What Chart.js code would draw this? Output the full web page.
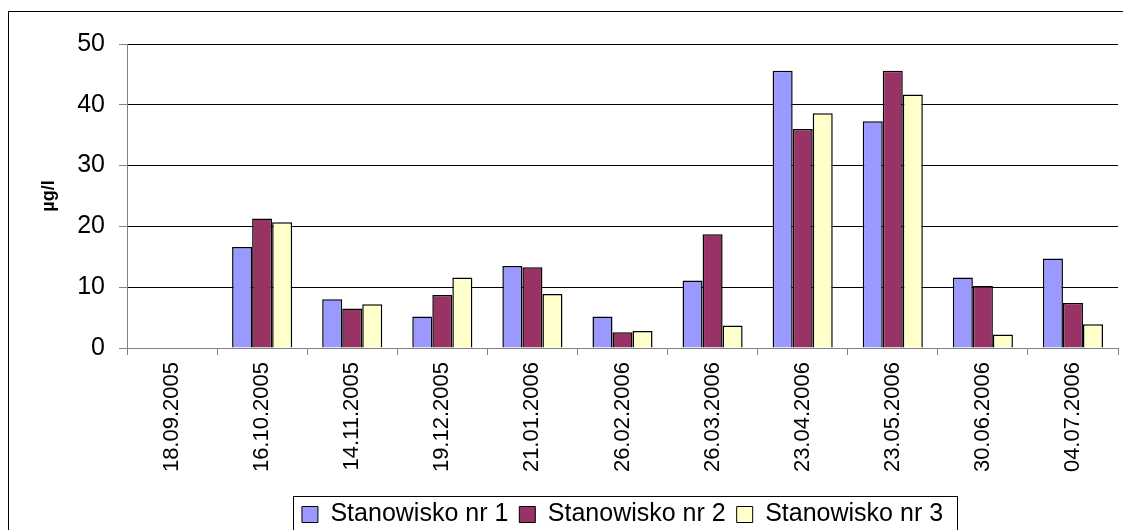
<!DOCTYPE html>
<html>
<head>
<meta charset="utf-8">
<script src="https://cdn.jsdelivr.net/npm/chart.js@4"></script>
<style>
    html, body { margin: 0; padding: 0; background: #fff; }
    #wrap { width: 1123px; height: 530px; }
</style>
</head>
<body>
<div id="wrap"><canvas id="chart"></canvas></div>
<script>
// dates of sampling
const dates = ['18.09.2005', '16.10.2005', '14.11.2005', '19.12.2005', '21.01.2006', '26.02.2006',
    '26.03.2006', '23.04.2006', '23.05.2006', '30.06.2006', '04.07.2006'];

// values in µg/l
const site1 = [null, 16.6, 8.0, 5.2, 13.5, 5.2, 11.1, 45.6, 37.3, 11.6, 14.7];
const site2 = [null, 21.3, 6.5, 8.7, 13.3, 2.6, 18.7, 36.0, 45.6, 10.2, 7.4];
const site3 = [null, 20.7, 7.2, 11.6, 8.9, 2.8, 3.7, 38.6, 41.7, 2.2, 3.9];

const seriesNames = ['Stanowisko nr 1', 'Stanowisko nr 2', 'Stanowisko nr 3'];
const yTicks = [0, 10, 20, 30, 40, 50];

const FONT = "'Liberation Sans', Arial, sans-serif";

// outer frame + frame round the legend
const framePlugin = {
    id: 'frames',
    afterDraw(chart) {
        const ctx = chart.ctx;
        ctx.save();
        ctx.strokeStyle = '#000';
        ctx.lineWidth = 1;
        ctx.strokeRect(8.5, 11.5, 1300, 700);

        const boxes = chart.legend.legendHitBoxes;
        if (boxes && boxes.length) {
            const first = boxes[0];
            const last = boxes[boxes.length - 1];
            const l = Math.round(first.left - 9) + 0.5;
            const r = Math.round(last.left + last.width + 14) + 0.5;
            const t = Math.round(first.top - 6) + 0.5;
            ctx.strokeStyle = '#000';
            ctx.strokeRect(l, t, r - l, 100);
        }
        ctx.restore();
    }
};

const ctx = document.getElementById('chart');
new Chart(ctx, {
    type: 'bar',
    data: {
        labels: dates,
        datasets: [
            { label: seriesNames[0], data: site1, backgroundColor: '#9999FF' },
            { label: seriesNames[1], data: site2, backgroundColor: '#993366' },
            { label: seriesNames[2], data: site3, backgroundColor: '#FFFFCC' }
        ].map(ds => Object.assign(ds, {
            borderColor: '#000',
            borderWidth: 1.5,
            barPercentage: 1,
            categoryPercentage: 0.667
        }))
    },
    options: {
        responsive: true,
        maintainAspectRatio: false,
        animation: false,
        layout: { padding: { left: 0, right: 5, top: 44, bottom: -7 } },
        plugins: {
            tooltip: { enabled: false },
            legend: {
                position: 'bottom',
                fullSize: false,
                labels: {
                    color: '#000',
                    font: { family: FONT, size: 25 },
                    boxWidth: 16,
                    boxHeight: 16,
                    padding: 11,
                    generateLabels(chart) {
                        return chart.data.datasets.map((ds, i) => ({
                            text: ds.label,
                            fillStyle: ds.backgroundColor,
                            strokeStyle: '#000',
                            lineWidth: 1,
                            datasetIndex: i
                        }));
                    }
                }
            }
        },
        scales: {
            x: {
                grid: {
                    display: true,
                    drawOnChartArea: false,
                    drawTicks: true,
                    tickLength: 7,
                    color: '#808080'
                },
                border: { color: '#808080', width: 1 },
                ticks: {
                    color: '#000',
                    font: { family: FONT, size: 22 },
                    minRotation: 90,
                    maxRotation: 90,
                    padding: 7,
                    autoSkip: false
                },
                afterFit(scale) { scale.height = 143; }
            },
            y: {
                min: 0,
                max: 50,
                afterBuildTicks(scale) { scale.ticks = yTicks.map(v => ({ value: v })); },
                grid: {
                    color: '#000',
                    lineWidth: 1,
                    tickLength: 8,
                    tickColor: '#808080'
                },
                border: { color: '#808080', width: 1 },
                ticks: {
                    color: '#000',
                    font: { family: FONT, size: 25 },
                    padding: 14
                },
                title: {
                    display: true,
                    text: 'µg/l',
                    color: '#000',
                    font: { family: FONT, size: 18, weight: 'bold' },
                    padding: { top: 38, bottom: 0 }
                },
                afterFit(scale) { scale.width = 127; }
            }
        }
    },
    plugins: [framePlugin]
});
</script>
</body>
</html>
